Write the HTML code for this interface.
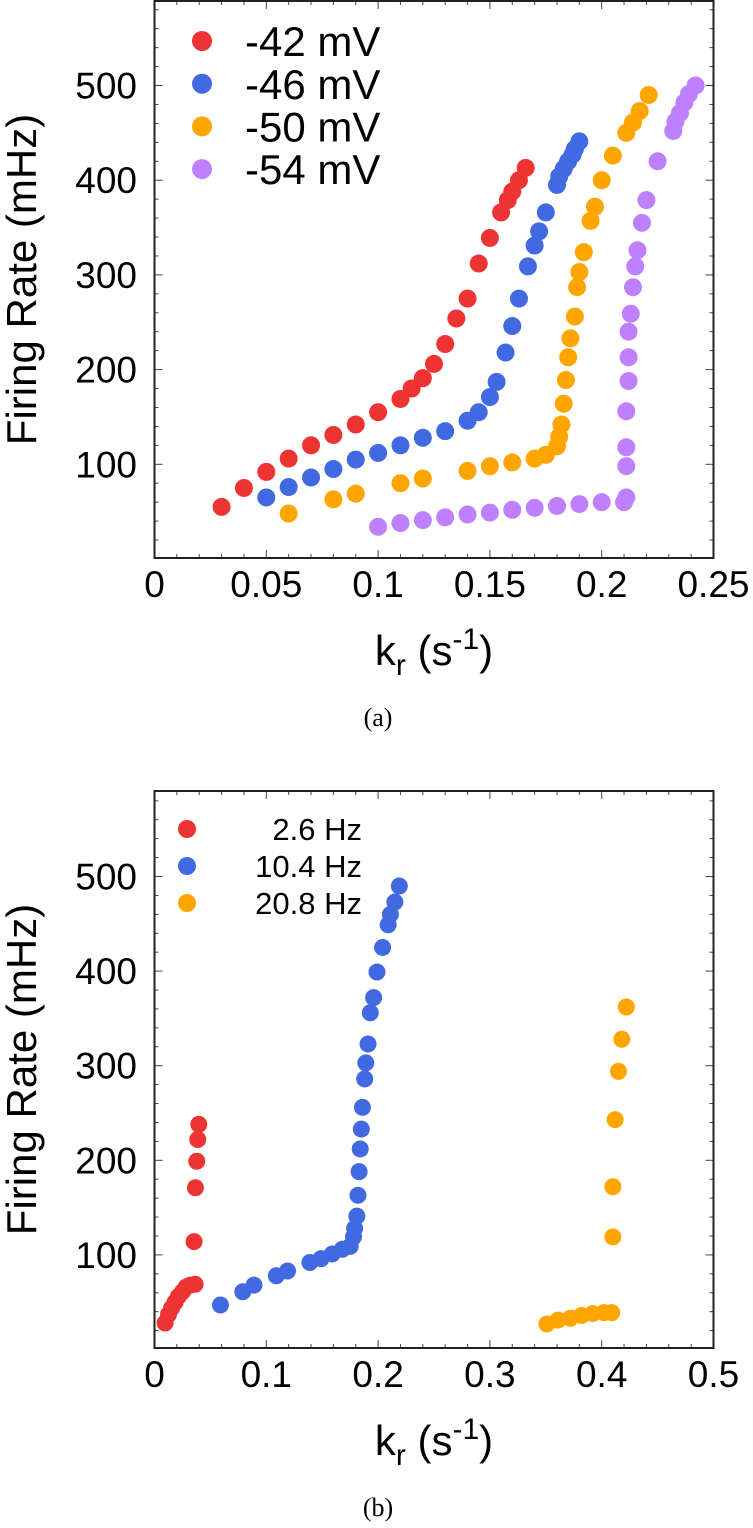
<!DOCTYPE html>
<html><head><meta charset="utf-8">
<style>
html,body{margin:0;padding:0;background:#fff;}
svg{display:block;font-family:"Liberation Sans",Arial,sans-serif;}
</style></head>
<body>
<svg id="fig" width="753" height="1528" viewBox="0 0 753 1528" xmlns="http://www.w3.org/2000/svg"></svg>
<script>
// ---- Panel (a) data ----
const aSeriesNames = ["-42 mV","-46 mV","-50 mV","-54 mV"];
const aColors = ["#ee3333","#4169e1","#ffa500","#bf80ff"];
const aX42 = [0.03,0.04,0.05,0.06,0.07,0.08,0.09,0.1,0.11,0.115,0.12,0.125,0.13,0.135,0.14,0.145,0.15,0.155,0.158,0.16,0.163,0.166];
const aY42 = [55,75,92,106,120,131,142,155,169,180,191,206,227,254,275,312,339,366,379,388,400,413];
const aX46 = [0.05,0.06,0.07,0.08,0.09,0.1,0.11,0.12,0.13,0.14,0.145,0.15,0.153,0.157,0.16,0.163,0.167,0.17,0.172,0.175,0.18,0.181,0.183,0.185,0.187,0.188,0.19];
const aY46 = [65,76,86,95,105,112,120,128,135,146,155,171,187,218,246,275,309,331,346,366,395,404,412,420,427,433,441];
const aX50 = [0.06,0.08,0.09,0.11,0.12,0.14,0.15,0.16,0.17,0.175,0.18,0.181,0.182,0.183,0.184,0.185,0.186,0.188,0.189,0.19,0.192,0.195,0.197,0.2,0.205,0.211,0.214,0.217,0.221];
const aY50 = [48,63,69,80,85,93,98,102,106,110,119,129,142,164,189,213,233,256,287,303,324,357,372,400,426,450,461,473,490];
const aX54 = [0.1,0.11,0.12,0.13,0.14,0.15,0.16,0.17,0.18,0.19,0.2,0.21,0.211,0.211,0.211,0.211,0.212,0.212,0.212,0.213,0.214,0.215,0.216,0.218,0.22,0.225,0.232,0.233,0.235,0.237,0.239,0.242];
const aY54 = [34,38,41,44,47,49,52,54,56,58,60,60,65,98,118,156,188,213,240,259,287,309,326,355,379,420,452,462,471,482,491,500];
const aXTicks = [0,0.05,0.1,0.15,0.2,0.25];
const aXTickLabels = ["0","0.05","0.1","0.15","0.2","0.25"];
const aYTicks = [100,200,300,400,500];
const aYTickLabels = ["100","200","300","400","500"];
// ---- Panel (b) data ----
const bSeriesNames = ["2.6 Hz","10.4 Hz","20.8 Hz"];
const bColors = ["#ee3333","#4169e1","#ffa500"];
const bX26 = [0.0095,0.0125,0.0154,0.0184,0.0214,0.025,0.0283,0.0318,0.0363,0.0354,0.0366,0.0378,0.0387,0.0396];
const bY26 = [28,37,44,50,56,61,66,68,69,114,171,199,222,238];
const bX104 = [0.059,0.079,0.089,0.109,0.119,0.139,0.149,0.159,0.168,0.175,0.178,0.179,0.181,0.182,0.183,0.184,0.185,0.186,0.188,0.189,0.191,0.193,0.196,0.199,0.204,0.209,0.211,0.215,0.219];
const bY104 = [47,61,68,78,83,92,96,101,106,109,119,128,141,163,188,212,233,256,286,303,323,356,372,399,425,449,460,473,490];
const bX208 = [0.351,0.361,0.372,0.382,0.392,0.402,0.409,0.41,0.41,0.412,0.415,0.418,0.422];
const bY208 = [27,31,33,36,38,39,39,119,172,243,294,328,362];
const bXTicks = [0,0.1,0.2,0.3,0.4,0.5];
const bXTickLabels = ["0","0.1","0.2","0.3","0.4","0.5"];
const bYTicks = [100,200,300,400,500];
const bYTickLabels = ["100","200","300","400","500"];

const NS = "http://www.w3.org/2000/svg";
const svg = document.getElementById("fig");
function mk(tag, attrs, parent){
  const e = document.createElementNS(NS, tag);
  for (const k in attrs) e.setAttribute(k, attrs[k]);
  (parent||svg).appendChild(e);
  return e;
}

function panel(cfg){
  const g = mk("g", {});
  
  
  const L=154.5, R=713.5, T=cfg.top, B=cfg.bottom;
  const sx = v => L + (v - cfg.xmin)/(cfg.xmax - cfg.xmin)*(R-L);
  const sy = v => cfg.y0 - v*cfg.ypx;
  const tk = mk("g", {stroke:"#444","stroke-width":1}, g);
  
  
  for (let v = cfg.xmin; v <= cfg.xmax + 1e-9; v += cfg.xminor){
    const x = sx(v);
    const isMaj = cfg.xTicks.some(t => Math.abs(t - v) < 1e-6);
    const len = isMaj ? 8 : 4;
    mk("line", {x1:x, y1:B, x2:x, y2:B-len}, tk);
    mk("line", {x1:x, y1:T, x2:x, y2:T+len}, tk);
  }
  for (let v = 20; sy(v) > T; v += 20){
    const y = sy(v);
    const isMaj = v % 100 === 0;
    const len = isMaj ? 8 : 4;
    mk("line", {x1:L, y1:y, x2:L+len, y2:y}, tk);
    mk("line", {x1:R, y1:y, x2:R-len, y2:y}, tk);
  }
  const fr = mk("rect", {x:L, y:T, width:R-L, height:B-T, fill:"none", stroke:"#222","stroke-width":2}, g);
  
  
  cfg.xTicks.forEach((v,i) => {
    const t = mk("text", {x:sx(v), y:B+39, "text-anchor":"middle", "font-size":37, fill:"#000"}, g);
    t.textContent = cfg.xTickLabels[i];
    
    
  });
  cfg.yTicks.forEach((v,i) => {
    const t = mk("text", {x:137, y:sy(v)+13, "text-anchor":"end", "font-size":37, fill:"#000"}, g);
    t.textContent = cfg.yTickLabels[i];
    
    
  });
  const yt = mk("text", {x:0, y:0, transform:`translate(36,${(T+B)/2}) rotate(-90)`, "text-anchor":"middle", "font-size":42, fill:"#000"}, g);
  yt.textContent = "Firing Rate (mHz)";
  
  
  const xt = mk("text", {x:(L+R)/2, y:B+107, "text-anchor":"middle", "font-size":42, fill:"#000"}, g);
  
  
  const s1 = mk("tspan", {}, xt); s1.textContent = "k";
  const s2 = mk("tspan", {dy:10, "font-size":30}, xt); s2.textContent = "r";
  const s3 = mk("tspan", {dy:-10}, xt); s3.textContent = " (s";
  const s4 = mk("tspan", {dy:-16, "font-size":30}, xt); s4.textContent = "-1";
  const s5 = mk("tspan", {dy:16}, xt); s5.textContent = ")";
  const cap = mk("text", {x:(L+R)/2 - 56, y:cfg.capY, "text-anchor":"middle", "font-size":26, "font-family":"Liberation Serif, serif", fill:"#000"}, g);
  cap.textContent = cfg.caption;
  
  
  cfg.series.forEach((s, si) => {
    const sg = mk("g", {fill:cfg.colors[si]}, g);
    
    
    s.x.forEach((xv, i) => {
      const c = mk("circle", {cx:sx(xv), cy:sy(s.y[i]), r:cfg.r}, sg);
      
      
    });
  });
  const lg = mk("g", {}, g);
  
  
  cfg.names.forEach((n, i) => {
    const y = cfg.legY + i*cfg.legDy;
    const c = mk("circle", {cx:cfg.legX, cy:y, r:cfg.legR, fill:cfg.colors[i]}, lg);
    
    
    const t = mk("text", {x:cfg.legTX, y:y+cfg.legFont*0.36, "text-anchor":cfg.legAnchor, "font-size":cfg.legFont, fill:"#000"}, lg);
    t.textContent = n;
    
    
  });
}

panel({name:"panel-a", top:1, bottom:558, y0:559, ypx:0.947, xmin:0, xmax:0.25, xminor:0.01,
  xTicks:aXTicks, xTickLabels:aXTickLabels, yTicks:aYTicks, yTickLabels:aYTickLabels,
  capY:726, caption:"(a)", r:9, colors:aColors, names:aSeriesNames,
  series:[{x:aX42,y:aY42},{x:aX46,y:aY46},{x:aX50,y:aY50},{x:aX54,y:aY54}],
  legX:202, legY:41, legDy:42.7, legR:10, legTX:245, legFont:42, legAnchor:"start"});

panel({name:"panel-b", top:791, bottom:1348, y0:1349.5, ypx:0.946, xmin:0, xmax:0.5, xminor:0.02,
  xTicks:bXTicks, xTickLabels:bXTickLabels, yTicks:bYTicks, yTickLabels:bYTickLabels,
  capY:1516, caption:"(b)", r:8.5, colors:bColors, names:bSeriesNames,
  series:[{x:bX26,y:bY26},{x:bX104,y:bY104},{x:bX208,y:bY208}],
  legX:187, legY:829, legDy:37, legR:9, legTX:362, legFont:31, legAnchor:"end"});
</script>
</body></html>
